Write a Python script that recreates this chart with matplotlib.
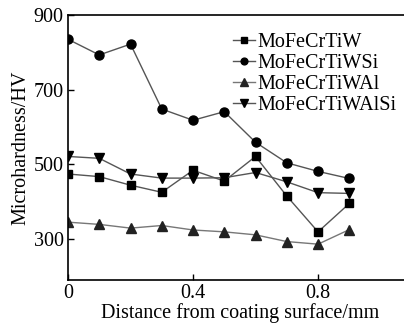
import matplotlib
matplotlib.use("Agg")
import matplotlib.pyplot as plt

plt.rcParams['font.family'] = ['Liberation Serif', 'DejaVu Serif']

distance = [0, 0.1, 0.2, 0.3, 0.4, 0.5, 0.6, 0.7, 0.8, 0.9]
hv_w = [474, 467, 444, 425, 484, 455, 521, 415, 319, 395]
hv_wsi = [835, 793, 822, 648, 618, 641, 559, 504, 481, 462]
hv_wal = [345, 339, 329, 336, 324, 319, 311, 293, 286, 325]
hv_walsi = [521, 516, 474, 463, 463, 464, 478, 453, 424, 422]

fig = plt.figure(figsize=(4.04, 3.24), dpi=100)
ax = fig.add_axes([68/404, 44/324, 0.851, 265/324])

line_c = '#555555'
ax.plot(distance, hv_w, color=line_c, lw=1, marker='s', ms=6, mfc='black', mec='black', label='MoFeCrTiW')
ax.plot(distance, hv_wsi, color=line_c, lw=1, marker='o', ms=6.5, mfc='black', mec='black', label='MoFeCrTiWSi')
ax.plot(distance, hv_wal, color='#777777', lw=1, marker='^', ms=7, mfc='#222222', mec='#222222', label='MoFeCrTiWAl')
ax.plot(distance, hv_walsi, color=line_c, lw=1, marker='v', ms=7, mfc='black', mec='black', label='MoFeCrTiWAlSi')

ax.set_xlim(0, 1.1)
ax.set_ylim(190, 900)
ax.set_xticks([0, 0.4, 0.8])
ax.set_xticklabels(['0', '0.4', '0.8'])
ax.set_yticks([300, 500, 700, 900])
ax.tick_params(direction='in', length=4, width=1, labelsize=14.5, pad=3)
ax.spines['right'].set_visible(False)
for s in ['left', 'top', 'bottom']:
    ax.spines[s].set_linewidth(1.2)

ax.set_xlabel('Distance from coating surface/mm', fontsize=14.5, labelpad=0)
ax.set_ylabel('Microhardness/HV', fontsize=14.5, labelpad=2)

ax.legend(loc='upper left', bbox_to_anchor=(0.45, 0.97), frameon=False, fontsize=14.5,
          handlelength=1.1, handletextpad=0.1, labelspacing=0.1, borderpad=0, markerscale=0.75)

plt.savefig('out.png', dpi=100)
